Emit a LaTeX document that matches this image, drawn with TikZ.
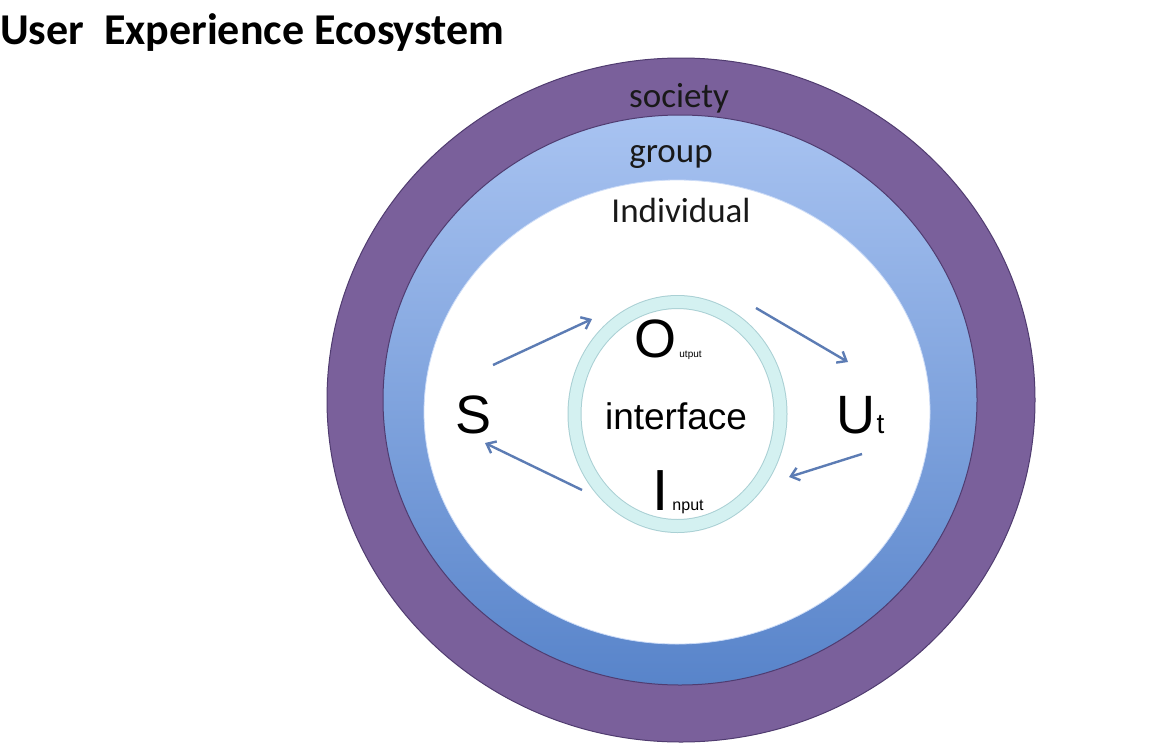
\documentclass[tikz,border=0pt]{standalone}
\usepackage{fontspec}
\setmainfont{Liberation Sans}
\newfontfamily\calib{Carlito}
\usetikzlibrary{arrows.meta}
\definecolor{purplering}{RGB}{122,96,155}
\definecolor{purpleedge}{RGB}{80,60,112}
\definecolor{bluetop}{RGB}{168,195,241}
\definecolor{bluebot}{RGB}{88,132,202}
\definecolor{ringfill}{RGB}{212,241,241}
\definecolor{ringedge}{RGB}{170,208,212}
\definecolor{arrowblue}{RGB}{92,124,180}
\tikzset{
  flow/.style={draw=arrowblue, line width=2.4pt, -{Straight Barb[length=8pt,width=13pt]}},
  ringlabel/.style={font=\calib\fontsize{35}{35}\selectfont, text=black!90, anchor=base, inner sep=0pt},
  biglet/.style={font=\fontsize{54}{54}\selectfont, anchor=base, inner sep=0pt},
  small/.style={anchor=base west, inner sep=0pt}
}
\begin{document}
\begin{tikzpicture}[x=1pt,y=-1pt]
\useasboundingbox (0,0) rectangle (1172,742);
\fill[white] (0,0) rectangle (1172,742);
% title
\node[anchor=base west, inner sep=0pt, font=\calib\bfseries\fontsize{44}{44}\selectfont] (title) at (0,44) {User\ \ Experience Ecosystem};
% society ring
\draw[fill=purplering, draw=purpleedge, line width=1pt] (681,400) ellipse [x radius=354, y radius=342];
% group ring
\shade[top color=bluetop, bottom color=bluebot] (680,400) ellipse [x radius=297, y radius=285];
\draw[draw=purpleedge, line width=1pt] (680,400) ellipse [x radius=297, y radius=285];
% individual
\fill[white] (677,412) ellipse [x radius=253, y radius=232];
\draw[draw=bluetop!60!white, line width=0.8pt] (677,412) ellipse [x radius=253, y radius=232];
% interface ring
\draw[draw=ringedge, line width=14pt] (677.5,414) ellipse [x radius=103, y radius=112];
\draw[draw=ringfill, line width=12pt] (677.5,414) ellipse [x radius=103, y radius=112];
% labels
\node[ringlabel] (society) at (679,107) {society};
\node[ringlabel] (group) at (671,162) {group};
\node[ringlabel] (indiv) at (681,222) {Individual};
\node[anchor=base, inner sep=0pt, font=\fontsize{37}{37}\selectfont] (iface) at (676,429) {interface};
\node[biglet] (O) at (655,357) {O};
\node[small, font=\fontsize{10}{10}\selectfont] (Osub) at (O.base east) {\hspace{3pt}utput};
\node[biglet, font=\fontsize{58}{58}\selectfont] (I) at (661,510) {I};
\node[small, font=\fontsize{16}{16}\selectfont] (Isub) at (I.base east) {\hspace{3pt}nput};
\node[biglet] (S) at (474,433) {S};
\node[biglet, anchor=base west] (U) at (836,433) {U};
\node[small, font=\fontsize{28}{28}\selectfont] (Usub) at (U.base east) {\hspace{1pt}t};
% arrows
\coordinate (a1s) at (493,365); \coordinate (a1e) at (592,319);
\coordinate (a2s) at (756,308); \coordinate (a2e) at (848,362);
\coordinate (a3s) at (862,454); \coordinate (a3e) at (789,477);
\coordinate (a4s) at (582,490); \coordinate (a4e) at (485,443);
\draw[flow] (a1s) -- (a1e);
\draw[flow] (a2s) -- (a2e);
\draw[flow] (a3s) -- (a3e);
\draw[flow] (a4s) -- (a4e);
\end{tikzpicture}
\end{document}
